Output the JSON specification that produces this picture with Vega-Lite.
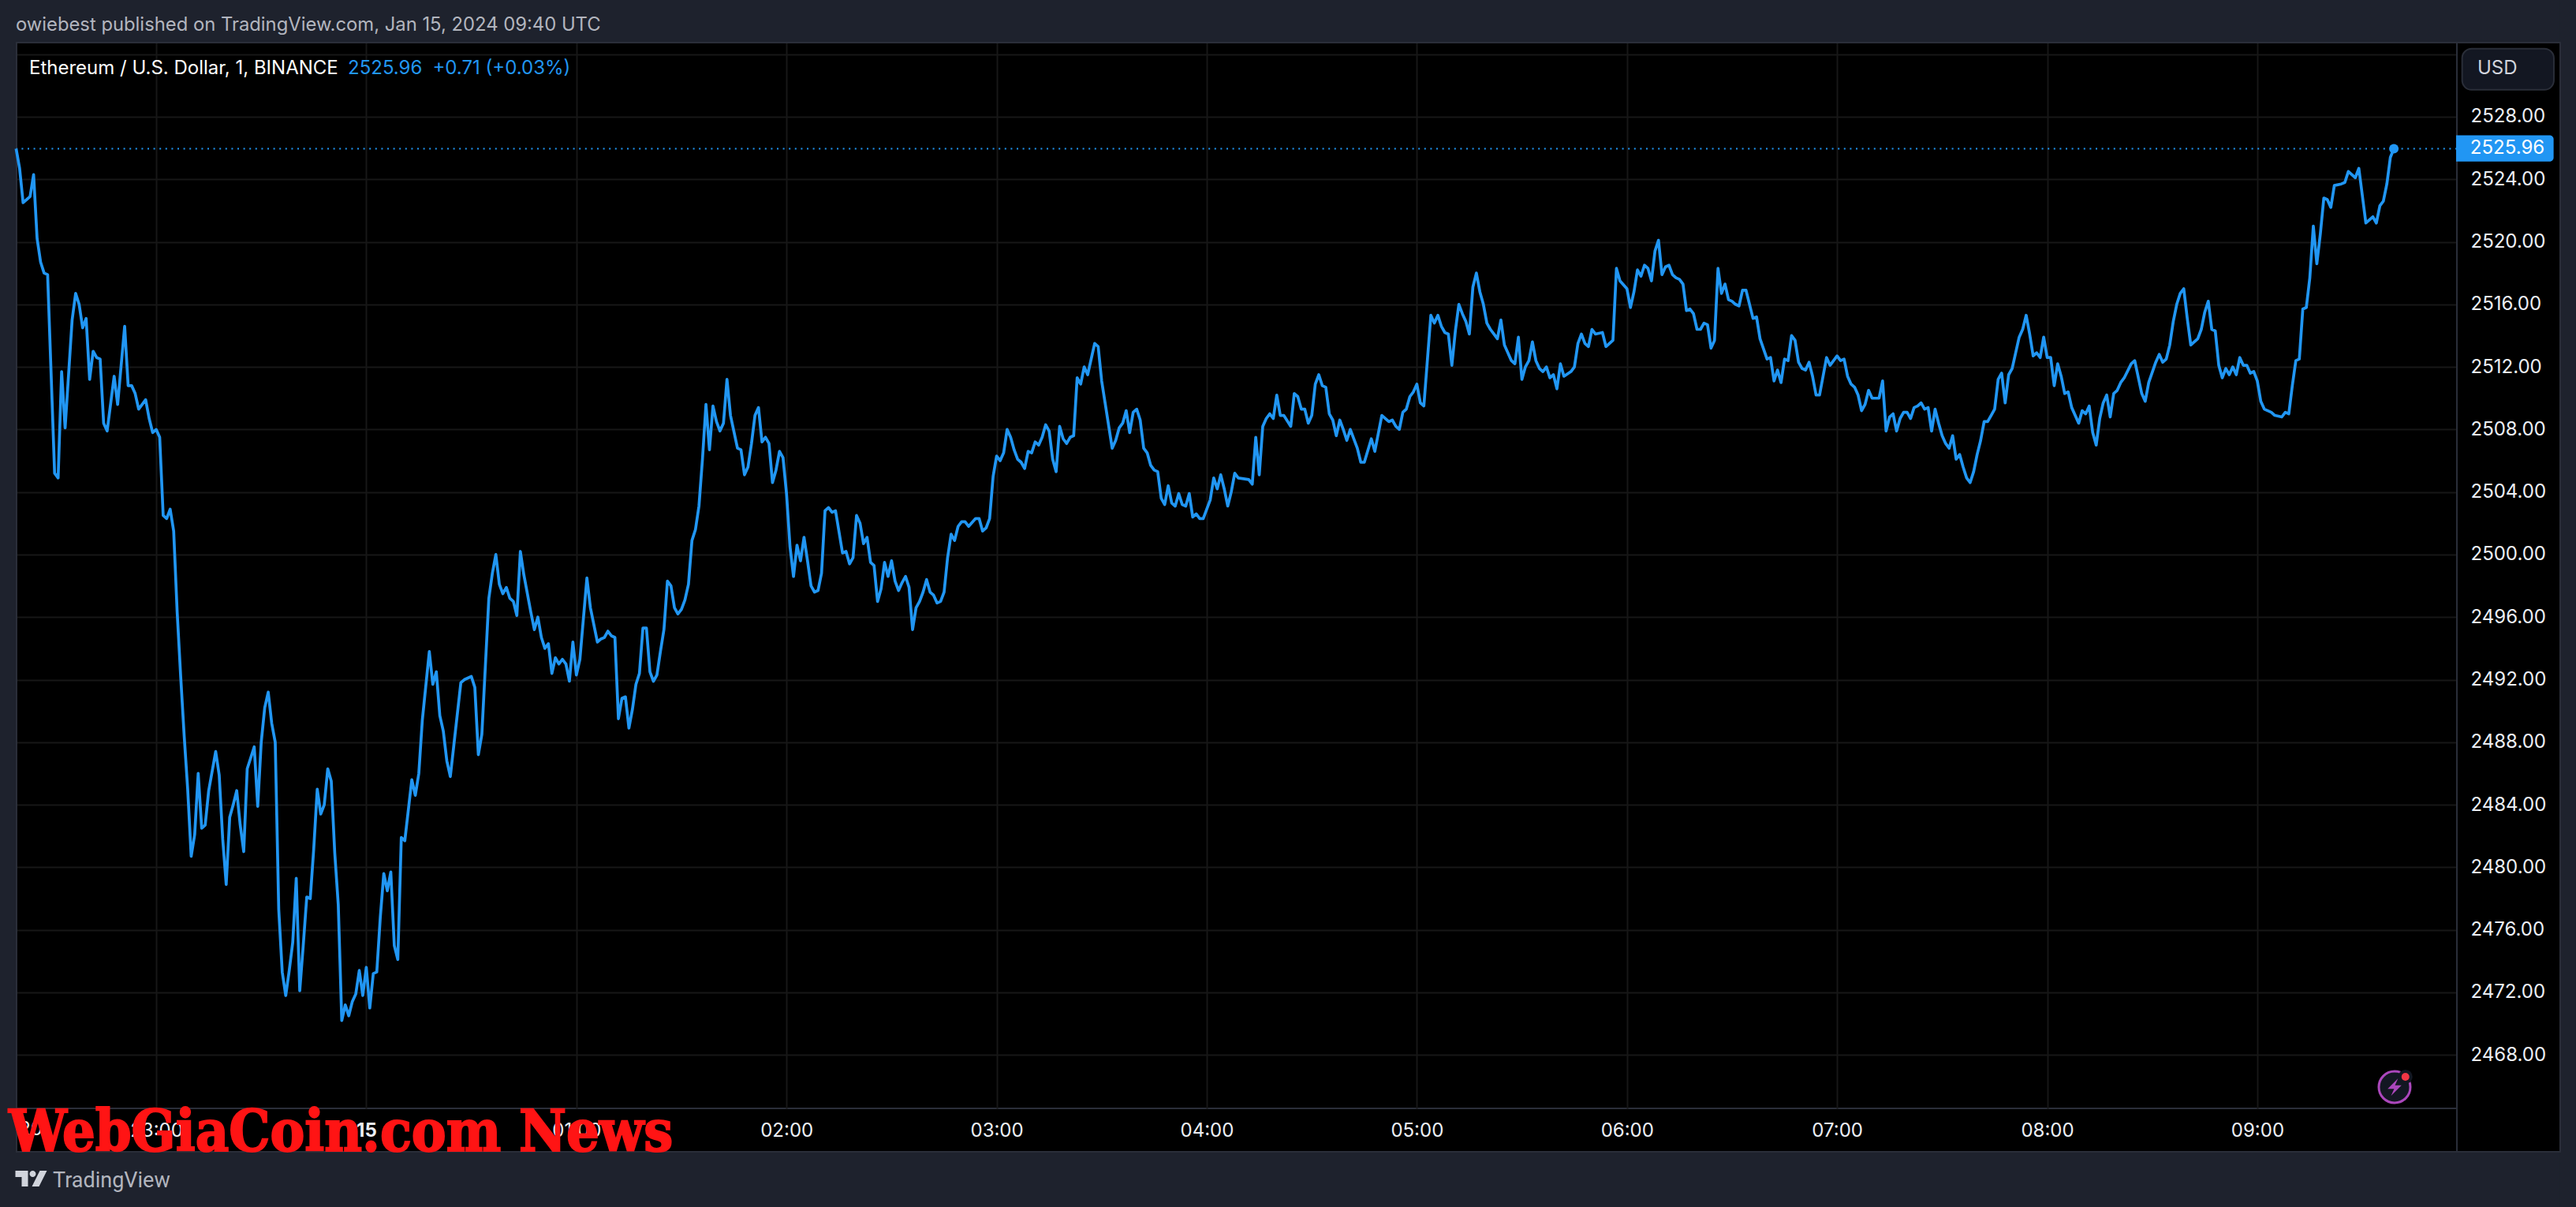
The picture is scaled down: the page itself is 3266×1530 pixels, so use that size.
{"$schema":"https://vega.github.io/schema/vega-lite/v6.json","width":3094,"height":1351,"autosize":"none","padding":{"left":21,"top":54,"right":151,"bottom":125},"background":"#000000","view":{"fill":"#000000","stroke":"#2a2e39","strokeWidth":2},"config":{"axis":{"title":null,"domain":false,"ticks":false,"gridColor":"#171717","gridWidth":2,"labelFont":"Inter","labelFontSize":24,"labelColor":"#eceff5"}},"data":{"values":[{}]},"datasets":{"eth":[
{"t":"2024-01-14T22:20Z","p":2525.96},{"t":"2024-01-14T22:21Z","p":2524.7},{"t":"2024-01-14T22:22Z","p":2522.5},{"t":"2024-01-14T22:24Z","p":2522.9},{"t":"2024-01-14T22:25Z","p":2524.3},{"t":"2024-01-14T22:26Z","p":2520.2},{"t":"2024-01-14T22:27Z","p":2518.7},{"t":"2024-01-14T22:28Z","p":2518.0},{"t":"2024-01-14T22:29Z","p":2517.9},{"t":"2024-01-14T22:31Z","p":2505.2},{"t":"2024-01-14T22:32Z","p":2504.9},{"t":"2024-01-14T22:33Z","p":2511.7},{"t":"2024-01-14T22:34Z","p":2508.1},{"t":"2024-01-14T22:36Z","p":2515.0},{"t":"2024-01-14T22:37Z","p":2516.7},{"t":"2024-01-14T22:38Z","p":2516.0},{"t":"2024-01-14T22:39Z","p":2514.5},{"t":"2024-01-14T22:40Z","p":2515.1},{"t":"2024-01-14T22:41Z","p":2511.2},{"t":"2024-01-14T22:42Z","p":2513.0},{"t":"2024-01-14T22:43Z","p":2512.6},{"t":"2024-01-14T22:44Z","p":2512.5},{"t":"2024-01-14T22:45Z","p":2508.4},{"t":"2024-01-14T22:46Z","p":2507.9},{"t":"2024-01-14T22:48Z","p":2511.4},{"t":"2024-01-14T22:49Z","p":2509.6},{"t":"2024-01-14T22:51Z","p":2514.6},{"t":"2024-01-14T22:52Z","p":2510.8},{"t":"2024-01-14T22:53Z","p":2510.8},{"t":"2024-01-14T22:54Z","p":2510.3},{"t":"2024-01-14T22:55Z","p":2509.3},{"t":"2024-01-14T22:57Z","p":2509.9},{"t":"2024-01-14T22:58Z","p":2508.7},{"t":"2024-01-14T22:59Z","p":2507.8},
{"t":"2024-01-14T23:00Z","p":2508.0},{"t":"2024-01-14T23:01Z","p":2507.5},{"t":"2024-01-14T23:02Z","p":2502.5},{"t":"2024-01-14T23:03Z","p":2502.3},{"t":"2024-01-14T23:04Z","p":2502.9},{"t":"2024-01-14T23:05Z","p":2501.5},{"t":"2024-01-14T23:06Z","p":2496.3},{"t":"2024-01-14T23:07Z","p":2492.2},{"t":"2024-01-14T23:08Z","p":2488.4},{"t":"2024-01-14T23:09Z","p":2485.0},{"t":"2024-01-14T23:10Z","p":2480.7},{"t":"2024-01-14T23:11Z","p":2482.1},{"t":"2024-01-14T23:12Z","p":2486.0},{"t":"2024-01-14T23:13Z","p":2482.5},{"t":"2024-01-14T23:14Z","p":2482.7},{"t":"2024-01-14T23:15Z","p":2484.9},{"t":"2024-01-14T23:17Z","p":2487.4},{"t":"2024-01-14T23:18Z","p":2485.9},{"t":"2024-01-14T23:19Z","p":2481.8},{"t":"2024-01-14T23:20Z","p":2478.9},{"t":"2024-01-14T23:21Z","p":2483.2},{"t":"2024-01-14T23:22Z","p":2484.0},{"t":"2024-01-14T23:23Z","p":2484.9},{"t":"2024-01-14T23:24Z","p":2482.7},{"t":"2024-01-14T23:25Z","p":2481.0},{"t":"2024-01-14T23:26Z","p":2486.3},{"t":"2024-01-14T23:28Z","p":2487.7},{"t":"2024-01-14T23:29Z","p":2483.9},{"t":"2024-01-14T23:30Z","p":2488.0},{"t":"2024-01-14T23:31Z","p":2490.2},{"t":"2024-01-14T23:32Z","p":2491.2},{"t":"2024-01-14T23:33Z","p":2489.2},{"t":"2024-01-14T23:34Z","p":2488.0},{"t":"2024-01-14T23:35Z","p":2477.3},{"t":"2024-01-14T23:36Z","p":2473.3},{"t":"2024-01-14T23:37Z","p":2471.8},{"t":"2024-01-14T23:38Z","p":2473.4},{"t":"2024-01-14T23:39Z","p":2475.2},{"t":"2024-01-14T23:40Z","p":2479.3},{"t":"2024-01-14T23:41Z","p":2472.1},{"t":"2024-01-14T23:42Z","p":2475.0},{"t":"2024-01-14T23:43Z","p":2478.1},{"t":"2024-01-14T23:44Z","p":2478.0},{"t":"2024-01-14T23:45Z","p":2481.2},{"t":"2024-01-14T23:46Z","p":2485.0},{"t":"2024-01-14T23:47Z","p":2483.4},{"t":"2024-01-14T23:48Z","p":2484.0},{"t":"2024-01-14T23:49Z","p":2486.3},{"t":"2024-01-14T23:50Z","p":2485.5},{"t":"2024-01-14T23:51Z","p":2480.9},{"t":"2024-01-14T23:52Z","p":2477.6},{"t":"2024-01-14T23:53Z","p":2470.2},{"t":"2024-01-14T23:54Z","p":2471.2},{"t":"2024-01-14T23:55Z","p":2470.5},{"t":"2024-01-14T23:56Z","p":2471.4},{"t":"2024-01-14T23:57Z","p":2471.9},{"t":"2024-01-14T23:58Z","p":2473.4},{"t":"2024-01-14T23:59Z","p":2471.8},
{"t":"2024-01-15T00:00Z","p":2473.6},{"t":"2024-01-15T00:01Z","p":2471.0},{"t":"2024-01-15T00:02Z","p":2473.2},{"t":"2024-01-15T00:03Z","p":2473.3},{"t":"2024-01-15T00:04Z","p":2476.8},{"t":"2024-01-15T00:05Z","p":2479.6},{"t":"2024-01-15T00:06Z","p":2478.5},{"t":"2024-01-15T00:07Z","p":2479.7},{"t":"2024-01-15T00:08Z","p":2475.0},{"t":"2024-01-15T00:09Z","p":2474.1},{"t":"2024-01-15T00:10Z","p":2481.9},{"t":"2024-01-15T00:11Z","p":2481.7},{"t":"2024-01-15T00:13Z","p":2485.6},{"t":"2024-01-15T00:14Z","p":2484.6},{"t":"2024-01-15T00:15Z","p":2486.0},{"t":"2024-01-15T00:16Z","p":2489.4},{"t":"2024-01-15T00:18Z","p":2493.8},{"t":"2024-01-15T00:19Z","p":2491.7},{"t":"2024-01-15T00:20Z","p":2492.5},{"t":"2024-01-15T00:21Z","p":2489.7},{"t":"2024-01-15T00:22Z","p":2488.7},{"t":"2024-01-15T00:23Z","p":2486.8},{"t":"2024-01-15T00:24Z","p":2485.8},{"t":"2024-01-15T00:25Z","p":2487.8},{"t":"2024-01-15T00:27Z","p":2491.8},{"t":"2024-01-15T00:28Z","p":2492.0},{"t":"2024-01-15T00:30Z","p":2492.2},{"t":"2024-01-15T00:31Z","p":2491.5},{"t":"2024-01-15T00:32Z","p":2487.2},{"t":"2024-01-15T00:33Z","p":2488.5},{"t":"2024-01-15T00:35Z","p":2497.2},{"t":"2024-01-15T00:36Z","p":2498.8},{"t":"2024-01-15T00:37Z","p":2500.0},{"t":"2024-01-15T00:38Z","p":2498.1},{"t":"2024-01-15T00:39Z","p":2497.5},{"t":"2024-01-15T00:40Z","p":2497.9},{"t":"2024-01-15T00:41Z","p":2497.2},{"t":"2024-01-15T00:42Z","p":2497.0},{"t":"2024-01-15T00:43Z","p":2496.1},{"t":"2024-01-15T00:44Z","p":2500.2},{"t":"2024-01-15T00:45Z","p":2498.7},{"t":"2024-01-15T00:47Z","p":2496.3},{"t":"2024-01-15T00:48Z","p":2495.2},{"t":"2024-01-15T00:49Z","p":2496.0},{"t":"2024-01-15T00:50Z","p":2494.7},{"t":"2024-01-15T00:51Z","p":2494.0},{"t":"2024-01-15T00:52Z","p":2494.3},{"t":"2024-01-15T00:53Z","p":2492.4},{"t":"2024-01-15T00:54Z","p":2493.4},{"t":"2024-01-15T00:55Z","p":2493.0},{"t":"2024-01-15T00:56Z","p":2493.3},{"t":"2024-01-15T00:57Z","p":2493.0},{"t":"2024-01-15T00:58Z","p":2491.9},{"t":"2024-01-15T00:59Z","p":2494.4},
{"t":"2024-01-15T01:00Z","p":2492.3},{"t":"2024-01-15T01:01Z","p":2493.3},{"t":"2024-01-15T01:03Z","p":2498.5},{"t":"2024-01-15T01:04Z","p":2496.6},{"t":"2024-01-15T01:06Z","p":2494.4},{"t":"2024-01-15T01:07Z","p":2494.6},{"t":"2024-01-15T01:08Z","p":2494.7},{"t":"2024-01-15T01:09Z","p":2495.1},{"t":"2024-01-15T01:10Z","p":2494.8},{"t":"2024-01-15T01:11Z","p":2494.7},{"t":"2024-01-15T01:12Z","p":2489.5},{"t":"2024-01-15T01:13Z","p":2490.8},{"t":"2024-01-15T01:14Z","p":2490.9},{"t":"2024-01-15T01:15Z","p":2488.9},{"t":"2024-01-15T01:16Z","p":2490.1},{"t":"2024-01-15T01:17Z","p":2491.7},{"t":"2024-01-15T01:18Z","p":2492.4},{"t":"2024-01-15T01:19Z","p":2495.3},{"t":"2024-01-15T01:20Z","p":2495.3},{"t":"2024-01-15T01:21Z","p":2492.5},{"t":"2024-01-15T01:22Z","p":2491.9},{"t":"2024-01-15T01:23Z","p":2492.3},{"t":"2024-01-15T01:24Z","p":2493.8},{"t":"2024-01-15T01:25Z","p":2495.2},{"t":"2024-01-15T01:26Z","p":2498.3},{"t":"2024-01-15T01:27Z","p":2498.0},{"t":"2024-01-15T01:28Z","p":2496.6},{"t":"2024-01-15T01:29Z","p":2496.2},{"t":"2024-01-15T01:30Z","p":2496.5},{"t":"2024-01-15T01:31Z","p":2497.1},{"t":"2024-01-15T01:32Z","p":2498.1},{"t":"2024-01-15T01:33Z","p":2500.9},{"t":"2024-01-15T01:34Z","p":2501.6},{"t":"2024-01-15T01:35Z","p":2503.1},{"t":"2024-01-15T01:36Z","p":2506.1},{"t":"2024-01-15T01:37Z","p":2509.6},{"t":"2024-01-15T01:38Z","p":2506.7},{"t":"2024-01-15T01:39Z","p":2509.5},{"t":"2024-01-15T01:40Z","p":2508.5},{"t":"2024-01-15T01:41Z","p":2507.9},{"t":"2024-01-15T01:42Z","p":2508.4},{"t":"2024-01-15T01:43Z","p":2511.2},{"t":"2024-01-15T01:44Z","p":2508.9},{"t":"2024-01-15T01:46Z","p":2506.8},{"t":"2024-01-15T01:47Z","p":2506.7},{"t":"2024-01-15T01:48Z","p":2505.1},{"t":"2024-01-15T01:49Z","p":2505.6},{"t":"2024-01-15T01:50Z","p":2507.1},{"t":"2024-01-15T01:51Z","p":2508.9},{"t":"2024-01-15T01:52Z","p":2509.4},{"t":"2024-01-15T01:53Z","p":2507.2},{"t":"2024-01-15T01:54Z","p":2507.5},{"t":"2024-01-15T01:55Z","p":2507.1},{"t":"2024-01-15T01:56Z","p":2504.6},{"t":"2024-01-15T01:57Z","p":2505.4},{"t":"2024-01-15T01:58Z","p":2506.6},{"t":"2024-01-15T01:59Z","p":2506.2},
{"t":"2024-01-15T02:00Z","p":2503.9},{"t":"2024-01-15T02:01Z","p":2500.5},{"t":"2024-01-15T02:02Z","p":2498.6},{"t":"2024-01-15T02:03Z","p":2500.6},{"t":"2024-01-15T02:04Z","p":2499.6},{"t":"2024-01-15T02:05Z","p":2501.1},{"t":"2024-01-15T02:06Z","p":2499.6},{"t":"2024-01-15T02:07Z","p":2498.0},{"t":"2024-01-15T02:08Z","p":2497.6},{"t":"2024-01-15T02:09Z","p":2497.7},{"t":"2024-01-15T02:10Z","p":2498.8},{"t":"2024-01-15T02:11Z","p":2502.8},{"t":"2024-01-15T02:12Z","p":2503.0},{"t":"2024-01-15T02:13Z","p":2502.7},{"t":"2024-01-15T02:14Z","p":2502.8},{"t":"2024-01-15T02:16Z","p":2500.1},{"t":"2024-01-15T02:17Z","p":2500.2},{"t":"2024-01-15T02:18Z","p":2499.4},{"t":"2024-01-15T02:19Z","p":2499.8},{"t":"2024-01-15T02:20Z","p":2502.5},{"t":"2024-01-15T02:21Z","p":2502.0},{"t":"2024-01-15T02:22Z","p":2500.7},{"t":"2024-01-15T02:23Z","p":2501.1},{"t":"2024-01-15T02:24Z","p":2499.5},{"t":"2024-01-15T02:25Z","p":2499.3},{"t":"2024-01-15T02:26Z","p":2497.0},{"t":"2024-01-15T02:27Z","p":2497.8},{"t":"2024-01-15T02:28Z","p":2499.5},{"t":"2024-01-15T02:29Z","p":2498.6},{"t":"2024-01-15T02:30Z","p":2499.6},{"t":"2024-01-15T02:31Z","p":2498.3},{"t":"2024-01-15T02:32Z","p":2497.7},{"t":"2024-01-15T02:33Z","p":2498.2},{"t":"2024-01-15T02:34Z","p":2498.6},{"t":"2024-01-15T02:35Z","p":2497.9},{"t":"2024-01-15T02:36Z","p":2495.2},{"t":"2024-01-15T02:37Z","p":2496.6},{"t":"2024-01-15T02:38Z","p":2497.0},{"t":"2024-01-15T02:39Z","p":2497.6},{"t":"2024-01-15T02:40Z","p":2498.4},{"t":"2024-01-15T02:41Z","p":2497.6},{"t":"2024-01-15T02:42Z","p":2497.4},{"t":"2024-01-15T02:43Z","p":2496.9},{"t":"2024-01-15T02:44Z","p":2497.0},{"t":"2024-01-15T02:45Z","p":2497.6},{"t":"2024-01-15T02:46Z","p":2499.8},{"t":"2024-01-15T02:47Z","p":2501.3},{"t":"2024-01-15T02:48Z","p":2500.9},{"t":"2024-01-15T02:49Z","p":2501.8},{"t":"2024-01-15T02:50Z","p":2502.1},{"t":"2024-01-15T02:51Z","p":2502.1},{"t":"2024-01-15T02:52Z","p":2501.8},{"t":"2024-01-15T02:54Z","p":2502.3},{"t":"2024-01-15T02:55Z","p":2502.3},{"t":"2024-01-15T02:56Z","p":2501.5},{"t":"2024-01-15T02:57Z","p":2501.7},{"t":"2024-01-15T02:58Z","p":2502.3},{"t":"2024-01-15T02:59Z","p":2505.0},
{"t":"2024-01-15T03:00Z","p":2506.3},{"t":"2024-01-15T03:01Z","p":2506.0},{"t":"2024-01-15T03:02Z","p":2506.5},{"t":"2024-01-15T03:03Z","p":2508.0},{"t":"2024-01-15T03:04Z","p":2507.5},{"t":"2024-01-15T03:05Z","p":2506.7},{"t":"2024-01-15T03:06Z","p":2506.1},{"t":"2024-01-15T03:07Z","p":2505.9},{"t":"2024-01-15T03:08Z","p":2505.5},{"t":"2024-01-15T03:09Z","p":2506.6},{"t":"2024-01-15T03:10Z","p":2506.5},{"t":"2024-01-15T03:11Z","p":2507.2},{"t":"2024-01-15T03:12Z","p":2507.0},{"t":"2024-01-15T03:13Z","p":2507.5},{"t":"2024-01-15T03:14Z","p":2508.3},{"t":"2024-01-15T03:15Z","p":2507.9},{"t":"2024-01-15T03:16Z","p":2506.1},{"t":"2024-01-15T03:17Z","p":2505.3},{"t":"2024-01-15T03:18Z","p":2508.2},{"t":"2024-01-15T03:19Z","p":2507.4},{"t":"2024-01-15T03:20Z","p":2507.1},{"t":"2024-01-15T03:21Z","p":2507.5},{"t":"2024-01-15T03:22Z","p":2507.6},{"t":"2024-01-15T03:23Z","p":2511.3},{"t":"2024-01-15T03:24Z","p":2510.9},{"t":"2024-01-15T03:25Z","p":2512.0},{"t":"2024-01-15T03:26Z","p":2511.5},{"t":"2024-01-15T03:28Z","p":2513.5},{"t":"2024-01-15T03:29Z","p":2513.3},{"t":"2024-01-15T03:30Z","p":2511.1},{"t":"2024-01-15T03:33Z","p":2506.8},{"t":"2024-01-15T03:34Z","p":2507.3},{"t":"2024-01-15T03:35Z","p":2508.1},{"t":"2024-01-15T03:36Z","p":2508.4},{"t":"2024-01-15T03:37Z","p":2509.2},{"t":"2024-01-15T03:38Z","p":2507.8},{"t":"2024-01-15T03:39Z","p":2509.1},{"t":"2024-01-15T03:40Z","p":2509.3},{"t":"2024-01-15T03:41Z","p":2508.6},{"t":"2024-01-15T03:42Z","p":2506.8},{"t":"2024-01-15T03:43Z","p":2506.5},{"t":"2024-01-15T03:44Z","p":2505.7},{"t":"2024-01-15T03:45Z","p":2505.4},{"t":"2024-01-15T03:46Z","p":2505.3},{"t":"2024-01-15T03:47Z","p":2503.6},{"t":"2024-01-15T03:48Z","p":2503.2},{"t":"2024-01-15T03:49Z","p":2504.4},{"t":"2024-01-15T03:50Z","p":2503.3},{"t":"2024-01-15T03:51Z","p":2503.1},{"t":"2024-01-15T03:52Z","p":2503.9},{"t":"2024-01-15T03:53Z","p":2503.2},{"t":"2024-01-15T03:54Z","p":2503.1},{"t":"2024-01-15T03:55Z","p":2503.9},{"t":"2024-01-15T03:56Z","p":2502.4},{"t":"2024-01-15T03:57Z","p":2502.6},{"t":"2024-01-15T03:58Z","p":2502.3},{"t":"2024-01-15T03:59Z","p":2502.3},
{"t":"2024-01-15T04:01Z","p":2503.5},{"t":"2024-01-15T04:02Z","p":2504.9},{"t":"2024-01-15T04:03Z","p":2504.2},{"t":"2024-01-15T04:04Z","p":2505.1},{"t":"2024-01-15T04:05Z","p":2504.2},{"t":"2024-01-15T04:06Z","p":2503.1},{"t":"2024-01-15T04:07Z","p":2504.0},{"t":"2024-01-15T04:08Z","p":2505.2},{"t":"2024-01-15T04:09Z","p":2504.9},{"t":"2024-01-15T04:12Z","p":2504.8},{"t":"2024-01-15T04:13Z","p":2504.5},{"t":"2024-01-15T04:14Z","p":2507.5},{"t":"2024-01-15T04:15Z","p":2505.1},{"t":"2024-01-15T04:16Z","p":2508.2},{"t":"2024-01-15T04:17Z","p":2508.7},{"t":"2024-01-15T04:18Z","p":2509.0},{"t":"2024-01-15T04:19Z","p":2508.7},{"t":"2024-01-15T04:20Z","p":2510.2},{"t":"2024-01-15T04:21Z","p":2508.9},{"t":"2024-01-15T04:22Z","p":2508.9},{"t":"2024-01-15T04:24Z","p":2508.2},{"t":"2024-01-15T04:25Z","p":2510.3},{"t":"2024-01-15T04:26Z","p":2510.1},{"t":"2024-01-15T04:27Z","p":2509.3},{"t":"2024-01-15T04:28Z","p":2509.3},{"t":"2024-01-15T04:29Z","p":2508.4},{"t":"2024-01-15T04:30Z","p":2508.9},{"t":"2024-01-15T04:31Z","p":2510.9},{"t":"2024-01-15T04:32Z","p":2511.5},{"t":"2024-01-15T04:33Z","p":2510.8},{"t":"2024-01-15T04:34Z","p":2510.7},{"t":"2024-01-15T04:35Z","p":2509.0},{"t":"2024-01-15T04:36Z","p":2508.6},{"t":"2024-01-15T04:37Z","p":2507.6},{"t":"2024-01-15T04:38Z","p":2508.6},{"t":"2024-01-15T04:39Z","p":2508.0},{"t":"2024-01-15T04:40Z","p":2507.3},{"t":"2024-01-15T04:41Z","p":2508.0},{"t":"2024-01-15T04:43Z","p":2506.8},{"t":"2024-01-15T04:44Z","p":2505.9},{"t":"2024-01-15T04:45Z","p":2505.9},{"t":"2024-01-15T04:47Z","p":2507.4},{"t":"2024-01-15T04:48Z","p":2506.6},{"t":"2024-01-15T04:50Z","p":2508.9},{"t":"2024-01-15T04:52Z","p":2508.5},{"t":"2024-01-15T04:53Z","p":2508.6},{"t":"2024-01-15T04:54Z","p":2508.2},{"t":"2024-01-15T04:55Z","p":2508.0},{"t":"2024-01-15T04:56Z","p":2509.1},{"t":"2024-01-15T04:57Z","p":2509.3},{"t":"2024-01-15T04:58Z","p":2510.1},{"t":"2024-01-15T04:59Z","p":2510.4},
{"t":"2024-01-15T05:00Z","p":2510.9},{"t":"2024-01-15T05:01Z","p":2509.7},{"t":"2024-01-15T05:02Z","p":2509.5},{"t":"2024-01-15T05:04Z","p":2515.3},{"t":"2024-01-15T05:05Z","p":2514.8},{"t":"2024-01-15T05:06Z","p":2515.3},{"t":"2024-01-15T05:07Z","p":2514.6},{"t":"2024-01-15T05:08Z","p":2514.2},{"t":"2024-01-15T05:09Z","p":2514.1},{"t":"2024-01-15T05:10Z","p":2512.1},{"t":"2024-01-15T05:11Z","p":2514.3},{"t":"2024-01-15T05:12Z","p":2516.0},{"t":"2024-01-15T05:13Z","p":2515.4},{"t":"2024-01-15T05:14Z","p":2514.9},{"t":"2024-01-15T05:15Z","p":2514.1},{"t":"2024-01-15T05:16Z","p":2517.1},{"t":"2024-01-15T05:17Z","p":2518.0},{"t":"2024-01-15T05:18Z","p":2516.8},{"t":"2024-01-15T05:19Z","p":2516.0},{"t":"2024-01-15T05:20Z","p":2514.8},{"t":"2024-01-15T05:21Z","p":2514.4},{"t":"2024-01-15T05:22Z","p":2514.1},{"t":"2024-01-15T05:23Z","p":2513.8},{"t":"2024-01-15T05:24Z","p":2515.0},{"t":"2024-01-15T05:25Z","p":2513.4},{"t":"2024-01-15T05:26Z","p":2512.9},{"t":"2024-01-15T05:27Z","p":2512.4},{"t":"2024-01-15T05:28Z","p":2512.2},{"t":"2024-01-15T05:29Z","p":2513.9},{"t":"2024-01-15T05:30Z","p":2511.2},{"t":"2024-01-15T05:31Z","p":2512.0},{"t":"2024-01-15T05:32Z","p":2512.4},{"t":"2024-01-15T05:33Z","p":2513.6},{"t":"2024-01-15T05:34Z","p":2512.4},{"t":"2024-01-15T05:35Z","p":2511.9},{"t":"2024-01-15T05:36Z","p":2511.7},{"t":"2024-01-15T05:37Z","p":2512.0},{"t":"2024-01-15T05:38Z","p":2511.3},{"t":"2024-01-15T05:39Z","p":2511.5},{"t":"2024-01-15T05:40Z","p":2510.6},{"t":"2024-01-15T05:41Z","p":2512.2},{"t":"2024-01-15T05:42Z","p":2511.4},{"t":"2024-01-15T05:44Z","p":2511.7},{"t":"2024-01-15T05:45Z","p":2512.0},{"t":"2024-01-15T05:46Z","p":2513.5},{"t":"2024-01-15T05:47Z","p":2514.1},{"t":"2024-01-15T05:48Z","p":2513.5},{"t":"2024-01-15T05:49Z","p":2513.3},{"t":"2024-01-15T05:50Z","p":2514.4},{"t":"2024-01-15T05:51Z","p":2514.1},{"t":"2024-01-15T05:53Z","p":2514.2},{"t":"2024-01-15T05:54Z","p":2513.3},{"t":"2024-01-15T05:56Z","p":2513.7},{"t":"2024-01-15T05:57Z","p":2518.3},{"t":"2024-01-15T05:58Z","p":2517.5},
{"t":"2024-01-15T06:00Z","p":2517.0},{"t":"2024-01-15T06:01Z","p":2515.8},{"t":"2024-01-15T06:02Z","p":2516.8},{"t":"2024-01-15T06:03Z","p":2518.2},{"t":"2024-01-15T06:04Z","p":2517.8},{"t":"2024-01-15T06:05Z","p":2518.5},{"t":"2024-01-15T06:06Z","p":2518.3},{"t":"2024-01-15T06:07Z","p":2517.5},{"t":"2024-01-15T06:08Z","p":2519.4},{"t":"2024-01-15T06:09Z","p":2520.1},{"t":"2024-01-15T06:10Z","p":2517.9},{"t":"2024-01-15T06:11Z","p":2518.4},{"t":"2024-01-15T06:12Z","p":2518.5},{"t":"2024-01-15T06:13Z","p":2517.9},{"t":"2024-01-15T06:14Z","p":2517.7},{"t":"2024-01-15T06:15Z","p":2517.6},{"t":"2024-01-15T06:16Z","p":2517.3},{"t":"2024-01-15T06:17Z","p":2515.6},{"t":"2024-01-15T06:18Z","p":2515.7},{"t":"2024-01-15T06:19Z","p":2515.4},{"t":"2024-01-15T06:20Z","p":2514.4},{"t":"2024-01-15T06:21Z","p":2514.4},{"t":"2024-01-15T06:22Z","p":2514.8},{"t":"2024-01-15T06:23Z","p":2514.7},{"t":"2024-01-15T06:24Z","p":2513.2},{"t":"2024-01-15T06:25Z","p":2513.7},{"t":"2024-01-15T06:26Z","p":2518.3},{"t":"2024-01-15T06:27Z","p":2516.7},{"t":"2024-01-15T06:28Z","p":2517.3},{"t":"2024-01-15T06:29Z","p":2516.3},{"t":"2024-01-15T06:30Z","p":2516.2},{"t":"2024-01-15T06:31Z","p":2516.0},{"t":"2024-01-15T06:32Z","p":2515.9},{"t":"2024-01-15T06:33Z","p":2516.9},{"t":"2024-01-15T06:34Z","p":2516.9},{"t":"2024-01-15T06:36Z","p":2515.1},{"t":"2024-01-15T06:37Z","p":2515.2},{"t":"2024-01-15T06:38Z","p":2513.8},{"t":"2024-01-15T06:40Z","p":2512.5},{"t":"2024-01-15T06:41Z","p":2512.6},{"t":"2024-01-15T06:42Z","p":2511.1},{"t":"2024-01-15T06:43Z","p":2511.8},{"t":"2024-01-15T06:44Z","p":2511.0},{"t":"2024-01-15T06:45Z","p":2512.5},{"t":"2024-01-15T06:46Z","p":2512.4},{"t":"2024-01-15T06:47Z","p":2514.0},{"t":"2024-01-15T06:48Z","p":2513.7},{"t":"2024-01-15T06:49Z","p":2512.3},{"t":"2024-01-15T06:50Z","p":2511.9},{"t":"2024-01-15T06:51Z","p":2511.8},{"t":"2024-01-15T06:52Z","p":2512.3},{"t":"2024-01-15T06:53Z","p":2511.4},{"t":"2024-01-15T06:54Z","p":2510.2},{"t":"2024-01-15T06:55Z","p":2510.2},{"t":"2024-01-15T06:57Z","p":2512.6},{"t":"2024-01-15T06:58Z","p":2512.1},{"t":"2024-01-15T06:59Z","p":2512.4},
{"t":"2024-01-15T07:00Z","p":2512.7},{"t":"2024-01-15T07:01Z","p":2512.4},{"t":"2024-01-15T07:02Z","p":2512.5},{"t":"2024-01-15T07:03Z","p":2511.4},{"t":"2024-01-15T07:04Z","p":2510.9},{"t":"2024-01-15T07:05Z","p":2510.7},{"t":"2024-01-15T07:06Z","p":2510.2},{"t":"2024-01-15T07:07Z","p":2509.2},{"t":"2024-01-15T07:08Z","p":2509.6},{"t":"2024-01-15T07:09Z","p":2510.5},{"t":"2024-01-15T07:10Z","p":2510.0},{"t":"2024-01-15T07:12Z","p":2510.0},{"t":"2024-01-15T07:13Z","p":2511.1},{"t":"2024-01-15T07:14Z","p":2507.9},{"t":"2024-01-15T07:15Z","p":2508.8},{"t":"2024-01-15T07:16Z","p":2509.0},{"t":"2024-01-15T07:17Z","p":2507.9},{"t":"2024-01-15T07:18Z","p":2508.7},{"t":"2024-01-15T07:19Z","p":2509.1},{"t":"2024-01-15T07:20Z","p":2509.1},{"t":"2024-01-15T07:21Z","p":2508.7},{"t":"2024-01-15T07:22Z","p":2509.4},{"t":"2024-01-15T07:23Z","p":2509.5},{"t":"2024-01-15T07:24Z","p":2509.7},{"t":"2024-01-15T07:25Z","p":2509.3},{"t":"2024-01-15T07:26Z","p":2509.4},{"t":"2024-01-15T07:27Z","p":2507.9},{"t":"2024-01-15T07:28Z","p":2509.3},{"t":"2024-01-15T07:29Z","p":2508.4},{"t":"2024-01-15T07:30Z","p":2507.6},{"t":"2024-01-15T07:31Z","p":2507.1},{"t":"2024-01-15T07:32Z","p":2506.8},{"t":"2024-01-15T07:33Z","p":2507.6},{"t":"2024-01-15T07:34Z","p":2506.1},{"t":"2024-01-15T07:35Z","p":2506.4},{"t":"2024-01-15T07:36Z","p":2505.6},{"t":"2024-01-15T07:37Z","p":2504.9},{"t":"2024-01-15T07:38Z","p":2504.6},{"t":"2024-01-15T07:39Z","p":2505.3},{"t":"2024-01-15T07:40Z","p":2506.4},{"t":"2024-01-15T07:41Z","p":2507.3},{"t":"2024-01-15T07:42Z","p":2508.5},{"t":"2024-01-15T07:43Z","p":2508.5},{"t":"2024-01-15T07:44Z","p":2508.9},{"t":"2024-01-15T07:45Z","p":2509.3},{"t":"2024-01-15T07:46Z","p":2511.2},{"t":"2024-01-15T07:47Z","p":2511.6},{"t":"2024-01-15T07:48Z","p":2509.7},{"t":"2024-01-15T07:49Z","p":2511.5},{"t":"2024-01-15T07:50Z","p":2511.9},{"t":"2024-01-15T07:52Z","p":2513.9},{"t":"2024-01-15T07:53Z","p":2514.4},{"t":"2024-01-15T07:54Z","p":2515.3},{"t":"2024-01-15T07:55Z","p":2514.1},{"t":"2024-01-15T07:56Z","p":2512.7},{"t":"2024-01-15T07:57Z","p":2512.9},{"t":"2024-01-15T07:58Z","p":2512.6},{"t":"2024-01-15T07:59Z","p":2513.9},
{"t":"2024-01-15T08:00Z","p":2512.6},{"t":"2024-01-15T08:01Z","p":2512.6},{"t":"2024-01-15T08:02Z","p":2510.8},{"t":"2024-01-15T08:03Z","p":2512.2},{"t":"2024-01-15T08:04Z","p":2511.4},{"t":"2024-01-15T08:05Z","p":2510.3},{"t":"2024-01-15T08:06Z","p":2510.4},{"t":"2024-01-15T08:07Z","p":2509.4},{"t":"2024-01-15T08:09Z","p":2508.4},{"t":"2024-01-15T08:10Z","p":2509.2},{"t":"2024-01-15T08:11Z","p":2509.0},{"t":"2024-01-15T08:12Z","p":2509.5},{"t":"2024-01-15T08:13Z","p":2507.8},{"t":"2024-01-15T08:14Z","p":2507.0},{"t":"2024-01-15T08:15Z","p":2508.7},{"t":"2024-01-15T08:16Z","p":2509.7},{"t":"2024-01-15T08:17Z","p":2510.2},{"t":"2024-01-15T08:18Z","p":2508.8},{"t":"2024-01-15T08:19Z","p":2510.3},{"t":"2024-01-15T08:20Z","p":2510.5},{"t":"2024-01-15T08:21Z","p":2511.0},{"t":"2024-01-15T08:22Z","p":2511.3},{"t":"2024-01-15T08:24Z","p":2512.2},{"t":"2024-01-15T08:25Z","p":2512.4},{"t":"2024-01-15T08:27Z","p":2510.3},{"t":"2024-01-15T08:28Z","p":2509.8},{"t":"2024-01-15T08:29Z","p":2511.0},{"t":"2024-01-15T08:31Z","p":2512.3},{"t":"2024-01-15T08:32Z","p":2512.8},{"t":"2024-01-15T08:33Z","p":2512.3},{"t":"2024-01-15T08:34Z","p":2512.5},{"t":"2024-01-15T08:35Z","p":2513.4},{"t":"2024-01-15T08:36Z","p":2514.9},{"t":"2024-01-15T08:37Z","p":2516.0},{"t":"2024-01-15T08:38Z","p":2516.7},{"t":"2024-01-15T08:39Z","p":2517.0},{"t":"2024-01-15T08:40Z","p":2515.1},{"t":"2024-01-15T08:41Z","p":2513.4},{"t":"2024-01-15T08:42Z","p":2513.6},{"t":"2024-01-15T08:43Z","p":2513.8},{"t":"2024-01-15T08:44Z","p":2514.4},{"t":"2024-01-15T08:45Z","p":2515.5},{"t":"2024-01-15T08:46Z","p":2516.2},{"t":"2024-01-15T08:47Z","p":2514.4},{"t":"2024-01-15T08:48Z","p":2514.3},{"t":"2024-01-15T08:49Z","p":2512.1},{"t":"2024-01-15T08:50Z","p":2511.3},{"t":"2024-01-15T08:51Z","p":2511.9},{"t":"2024-01-15T08:52Z","p":2511.5},{"t":"2024-01-15T08:53Z","p":2512.0},{"t":"2024-01-15T08:54Z","p":2511.5},{"t":"2024-01-15T08:55Z","p":2512.6},{"t":"2024-01-15T08:56Z","p":2512.1},{"t":"2024-01-15T08:57Z","p":2512.1},{"t":"2024-01-15T08:58Z","p":2511.6},{"t":"2024-01-15T08:59Z","p":2511.7},
{"t":"2024-01-15T09:00Z","p":2511.1},{"t":"2024-01-15T09:01Z","p":2509.8},{"t":"2024-01-15T09:02Z","p":2509.3},{"t":"2024-01-15T09:03Z","p":2509.2},{"t":"2024-01-15T09:04Z","p":2509.1},{"t":"2024-01-15T09:05Z","p":2508.9},{"t":"2024-01-15T09:07Z","p":2508.8},{"t":"2024-01-15T09:08Z","p":2509.1},{"t":"2024-01-15T09:09Z","p":2509.0},{"t":"2024-01-15T09:10Z","p":2510.8},{"t":"2024-01-15T09:11Z","p":2512.4},{"t":"2024-01-15T09:12Z","p":2512.5},{"t":"2024-01-15T09:13Z","p":2515.7},{"t":"2024-01-15T09:14Z","p":2515.8},{"t":"2024-01-15T09:15Z","p":2517.7},{"t":"2024-01-15T09:16Z","p":2521.0},{"t":"2024-01-15T09:17Z","p":2518.6},{"t":"2024-01-15T09:18Z","p":2520.5},{"t":"2024-01-15T09:19Z","p":2522.8},{"t":"2024-01-15T09:20Z","p":2522.7},{"t":"2024-01-15T09:21Z","p":2522.2},{"t":"2024-01-15T09:22Z","p":2523.6},{"t":"2024-01-15T09:24Z","p":2523.7},{"t":"2024-01-15T09:25Z","p":2523.8},{"t":"2024-01-15T09:26Z","p":2524.5},{"t":"2024-01-15T09:27Z","p":2524.3},{"t":"2024-01-15T09:28Z","p":2524.1},{"t":"2024-01-15T09:29Z","p":2524.7},{"t":"2024-01-15T09:31Z","p":2521.2},{"t":"2024-01-15T09:33Z","p":2521.6},{"t":"2024-01-15T09:34Z","p":2521.2},{"t":"2024-01-15T09:35Z","p":2522.3},{"t":"2024-01-15T09:36Z","p":2522.6},{"t":"2024-01-15T09:37Z","p":2523.7},{"t":"2024-01-15T09:38Z","p":2525.4},{"t":"2024-01-15T09:39Z","p":2525.96}
]},
"layer":[
{"mark":{"type":"rect","fill":"#1e222d","clip":false},"encoding":{"x":{"datum":1705270524000,"type":"temporal"},"x2":{"datum":1705314660000},"y":{"datum":2535.47,"type":"quantitative"},"y2":{"datum":2532.74}}},
{"mark":{"type":"rect","fill":"#1e222d","clip":false},"encoding":{"x":{"datum":1705270524000,"type":"temporal"},"x2":{"datum":1705314660000},"y":{"datum":2461.8,"type":"quantitative"},"y2":{"datum":2458.27}}},
{"mark":{"type":"rect","fill":"#1e222d","clip":false},"encoding":{"x":{"datum":1705270524000,"type":"temporal"},"x2":{"datum":1705270808000},"y":{"datum":2535.47,"type":"quantitative"},"y2":{"datum":2458.27}}},
{"mark":{"type":"rect","fill":"#1e222d","clip":false},"encoding":{"x":{"datum":1705314390000,"type":"temporal"},"x2":{"datum":1705314660000},"y":{"datum":2535.47,"type":"quantitative"},"y2":{"datum":2458.27}}},
{"mark":{"type":"rect","fill":null,"stroke":"#2a2e39","strokeWidth":2,"clip":false},"encoding":{"x":{"datum":1705270808000,"type":"temporal"},"x2":{"datum":1705314390000},"y":{"datum":2532.74,"type":"quantitative"},"y2":{"datum":2461.8}}},
{"mark":{"type":"rule","stroke":"#2a2e39","strokeWidth":2,"clip":false},"encoding":{"x":{"datum":1705312620000,"type":"temporal"},"y":{"datum":2532.74,"type":"quantitative"},"y2":{"datum":2461.8}}},
{"mark":{"type":"rule","stroke":"#2196f3","strokeWidth":2,"strokeDash":[2,5.6],"clip":false},"encoding":{"y":{"datum":2525.96,"type":"quantitative"}}},
{"data":{"name":"eth"},"mark":{"type":"line","stroke":"#2196f3","strokeWidth":3.7,"strokeJoin":"round","clip":false},"encoding":{
"x":{"field":"t","type":"temporal","scale":{"type":"utc","domain":["2024-01-14T22:20:08Z","2024-01-15T09:57:00Z"]},"axis":{"values":["2024-01-14T23:00:00Z","2024-01-15T00:00:00Z","2024-01-15T01:00:00Z","2024-01-15T02:00:00Z","2024-01-15T03:00:00Z","2024-01-15T04:00:00Z","2024-01-15T05:00:00Z","2024-01-15T06:00:00Z","2024-01-15T07:00:00Z","2024-01-15T08:00:00Z","2024-01-15T09:00:00Z"],"labelExpr":"utchours(datum.value)==0 ? '15' : utcFormat(datum.value,'%H:%M')","labelFontWeight":{"condition":{"test":"utchours(datum.value)==0","value":700},"value":400},"labelPadding":16,"labelFlush":false,"labelOverlap":false,"grid":true,"title":null}},
"y":{"field":"p","type":"quantitative","scale":{"domain":[2464.58,2532.74],"nice":false,"zero":false},"axis":{"orient":"right","values":[2468,2472,2476,2480,2484,2488,2492,2496,2500,2504,2508,2512,2516,2520,2524,2528,2532],"labelExpr":"datum.value==2532 ? '' : format(datum.value,'.2f')","labelPadding":17,"labelOverlap":false,"labelFlush":false,"grid":true,"title":null}}}},
{"data":{"name":"eth"},"transform":[{"filter":"time(datum.t)==1705311540000"}],"mark":{"type":"point","shape":"circle","filled":true,"fill":"#2196f3","size":144,"opacity":1,"clip":false},"encoding":{"x":{"field":"t","type":"temporal"},"y":{"field":"p","type":"quantitative"}}},
{"mark":{"type":"rect","fill":"#2196f3","cornerRadiusTopRight":5,"cornerRadiusBottomRight":5,"clip":false},"encoding":{"x":{"datum":1705312606000,"type":"temporal"},"x2":{"datum":1705314277000},"y":{"datum":2526.81,"type":"quantitative"},"y2":{"datum":2525.13}}},
{"mark":{"type":"text","text":"2525.96","font":"Inter","fontSize":24,"fill":"#ffffff","align":"left","baseline":"middle","clip":false},"encoding":{"x":{"datum":1705312848000,"type":"temporal"},"y":{"datum":2525.96,"type":"quantitative"}}},
{"mark":{"type":"rect","fill":"#131722","stroke":"#2a2e39","strokeWidth":2,"cornerRadius":12,"clip":false},"encoding":{"x":{"datum":1705312710000,"type":"temporal"},"x2":{"datum":1705314281000},"y":{"datum":2532.35,"type":"quantitative"},"y2":{"datum":2529.72}}},
{"mark":{"type":"text","text":"USD","font":"Inter","fontSize":24,"fill":"#d1d4dc","align":"left","baseline":"middle","clip":false},"encoding":{"x":{"datum":1705312970000,"type":"temporal"},"y":{"datum":2531.07,"type":"quantitative"}}},
{"mark":{"type":"text","text":"owiebest published on TradingView.com, Jan 15, 2024 09:40 UTC","font":"Inter","fontSize":23.8,"fill":"#b2b5be","align":"left","baseline":"middle","clip":false},"encoding":{"x":{"datum":1705270794000,"type":"temporal"},"y":{"datum":2533.85,"type":"quantitative"}}},
{"mark":{"type":"text","text":"Ethereum / U.S. Dollar, 1, BINANCE","font":"Inter","fontSize":24,"fill":"#ffffff","align":"left","baseline":"middle","clip":false},"encoding":{"x":{"datum":1705271024000,"type":"temporal"},"y":{"datum":2531.09,"type":"quantitative"}}},
{"mark":{"type":"text","text":"2525.96","font":"Inter","fontSize":24,"fill":"#2196f3","align":"left","baseline":"middle","clip":false},"encoding":{"x":{"datum":1705276484000,"type":"temporal"},"y":{"datum":2531.09,"type":"quantitative"}}},
{"mark":{"type":"text","text":"+0.71 (+0.03%)","font":"Inter","fontSize":24,"fill":"#2196f3","align":"left","baseline":"middle","clip":false},"encoding":{"x":{"datum":1705277936000,"type":"temporal"},"y":{"datum":2531.09,"type":"quantitative"}}},
{"mark":{"type":"text","text":"20","font":"Inter","fontSize":24,"fill":"#eceff5","align":"center","baseline":"middle","clip":false},"encoding":{"x":{"datum":1705271052000,"type":"temporal"},"y":{"datum":2463.2,"type":"quantitative"}}},
{"mark":{"type":"point","shape":"circle","filled":true,"fill":"#131722","stroke":"#ab47bc","strokeWidth":3,"size":1600,"opacity":1,"clip":false},"encoding":{"x":{"datum":1705311552000,"type":"temporal"},"y":{"datum":2465.94,"type":"quantitative"}}},
{"mark":{"type":"point","shape":"M0.4,-1 L-0.8,0.2 H-0.05 L-0.4,1 L0.8,-0.2 H0.05 Z","filled":true,"fill":"#ab47bc","size":484,"opacity":1,"clip":false},"encoding":{"x":{"datum":1705311552000,"type":"temporal"},"y":{"datum":2465.94,"type":"quantitative"}}},
{"mark":{"type":"point","shape":"circle","filled":true,"fill":"#131722","size":324,"opacity":1,"clip":false},"encoding":{"x":{"datum":1705311738000,"type":"temporal"},"y":{"datum":2466.6,"type":"quantitative"}}},
{"mark":{"type":"point","shape":"circle","filled":true,"fill":"#f23645","size":100,"opacity":1,"clip":false},"encoding":{"x":{"datum":1705311738000,"type":"temporal"},"y":{"datum":2466.6,"type":"quantitative"}}},
{"mark":{"type":"point","shape":"M-1,-0.5 H-0.2 V0.5 H-0.6 V-0.1 H-1 Z M0.3,-0.3 A0.2,0.2 0 1 1 -0.1,-0.3 A0.2,0.2 0 1 1 0.3,-0.3 Z M0.55,-0.5 H1 L0.5,0.5 H0.05 Z","filled":true,"fill":"#d1d4dc","size":1600,"opacity":1,"clip":false},"encoding":{"x":{"datum":1705271058000,"type":"temporal"},"y":{"datum":2460.09,"type":"quantitative"}}},
{"mark":{"type":"text","text":"TradingView","font":"Roboto","fontSize":27,"fill":"#b2b5be","align":"left","baseline":"middle","clip":false},"encoding":{"x":{"datum":1705271430000,"type":"temporal"},"y":{"datum":2459.94,"type":"quantitative"}}},
{"mark":{"type":"text","text":"WebGiaCoin.com News","font":"DejaVu Serif Condensed","fontWeight":"bold","fontSize":73,"fill":"#ff1414","stroke":"#ff1414","strokeWidth":2,"align":"left","baseline":"alphabetic","clip":false},"encoding":{"x":{"datum":1705270674000,"type":"temporal"},"y":{"datum":2461.85,"type":"quantitative"}}}
]}
